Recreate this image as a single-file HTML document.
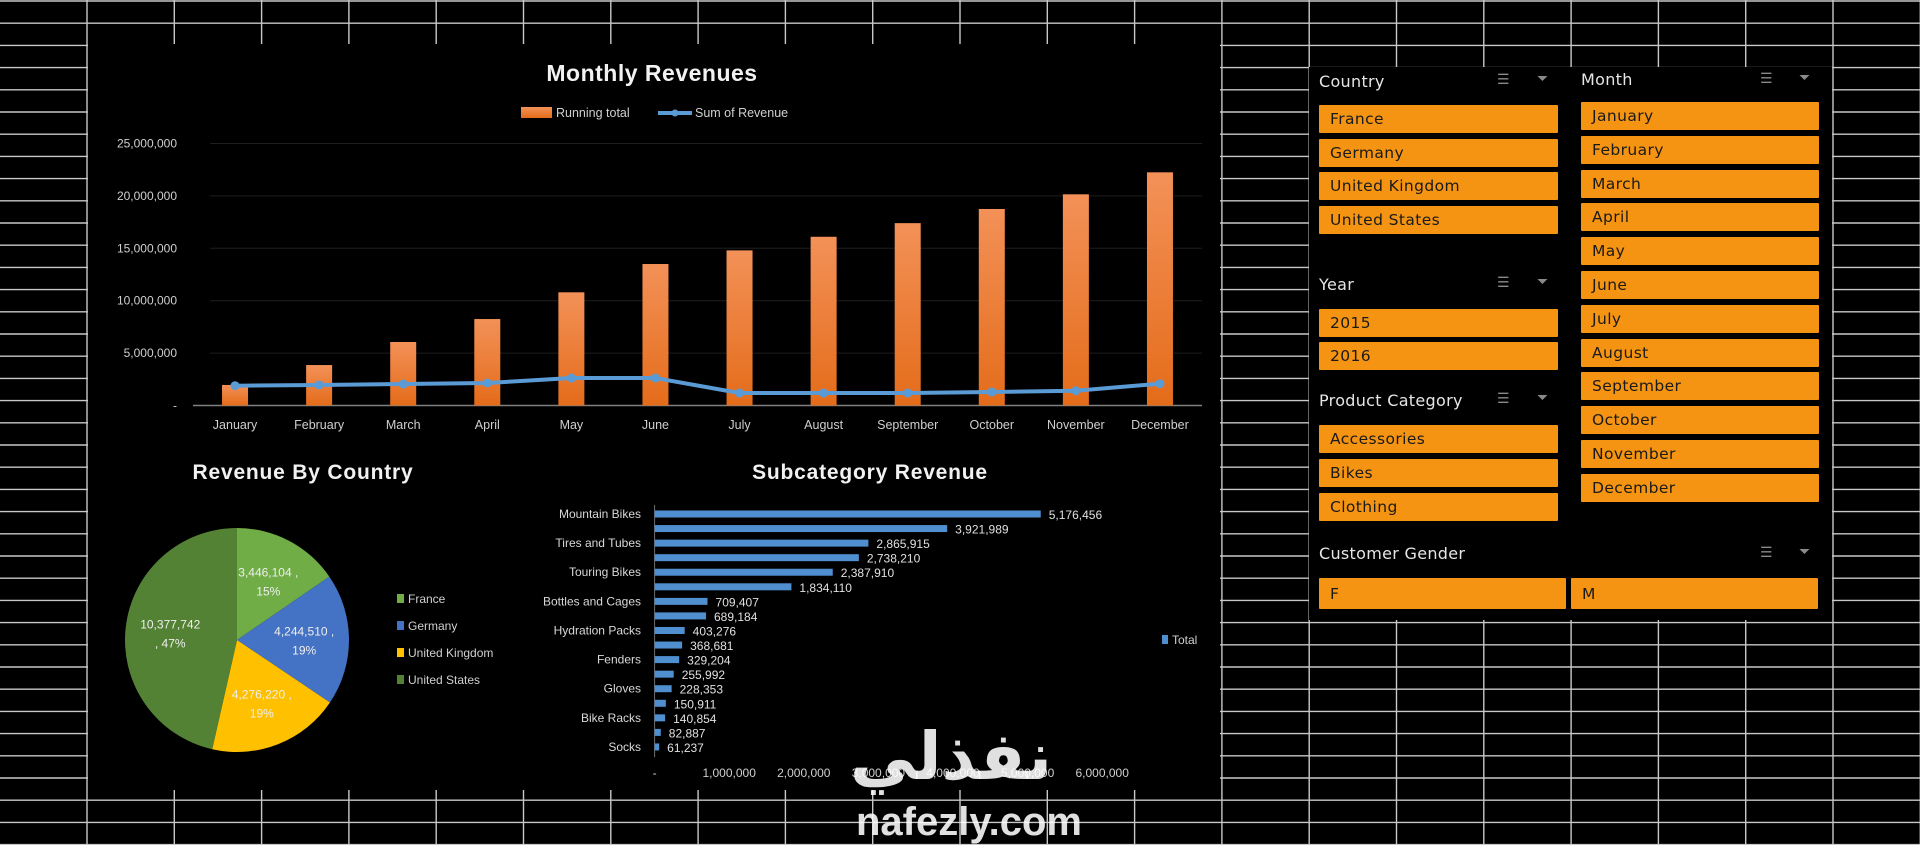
<!DOCTYPE html>
<html><head><meta charset="utf-8"><style>
body{margin:0;width:1920px;height:845px;background:#000;overflow:hidden;position:relative;font-family:"Liberation Sans",sans-serif}
svg{position:absolute;left:0;top:0}
.sl-title{position:absolute;color:#e6e6e6;font:16px "DejaVu Sans",sans-serif;letter-spacing:0.3px}
.btn{position:absolute;background:#f59412;color:#1a1a1a;font:15.5px "DejaVu Sans",sans-serif;letter-spacing:0.4px;box-sizing:border-box;padding-left:11px;display:flex;align-items:center;border-radius:1px}
.ic{position:absolute;color:#8a8a8a;font-size:14px}
.wm{position:absolute;color:rgba(255,255,255,0.88);font-weight:bold}
</style></head><body>
<svg id="bg" width="1920" height="845"></svg>
<svg id="charts" width="1920" height="845"></svg>

<div id="slicers">
<div class="sl-title" style="left:1319px;top:72px">Country</div>
<div class="ic" style="left:1497px;top:71px">☰</div>
<div class="ic" style="left:1537px;top:70px">⏷</div>
<div class="btn" style="left:1319px;top:105px;width:239px;height:28px">France</div>
<div class="btn" style="left:1319px;top:139px;width:239px;height:28px">Germany</div>
<div class="btn" style="left:1319px;top:172px;width:239px;height:28px">United Kingdom</div>
<div class="btn" style="left:1319px;top:206px;width:239px;height:28px">United States</div>

<div class="sl-title" style="left:1319px;top:275px">Year</div>
<div class="ic" style="left:1497px;top:274px">☰</div>
<div class="ic" style="left:1537px;top:273px">⏷</div>
<div class="btn" style="left:1319px;top:309px;width:239px;height:28px">2015</div>
<div class="btn" style="left:1319px;top:342px;width:239px;height:28px">2016</div>

<div class="sl-title" style="left:1319px;top:391px">Product Category</div>
<div class="ic" style="left:1497px;top:390px">☰</div>
<div class="ic" style="left:1537px;top:389px">⏷</div>
<div class="btn" style="left:1319px;top:425px;width:239px;height:28px">Accessories</div>
<div class="btn" style="left:1319px;top:459px;width:239px;height:28px">Bikes</div>
<div class="btn" style="left:1319px;top:493px;width:239px;height:28px">Clothing</div>

<div class="sl-title" style="left:1581px;top:70px">Month</div>
<div class="ic" style="left:1760px;top:70px">☰</div>
<div class="ic" style="left:1799px;top:69px">⏷</div>
<div id="months"></div>

<div class="sl-title" style="left:1319px;top:544px">Customer Gender</div>
<div class="ic" style="left:1760px;top:544px">☰</div>
<div class="ic" style="left:1799px;top:543px">⏷</div>
<div class="btn" style="left:1319px;top:578px;width:247px;height:31px">F</div>
<div class="btn" style="left:1571px;top:578px;width:247px;height:31px">M</div>
</div>

<div class="wm" style="left:850px;top:718px;font-family:'DejaVu Sans',sans-serif;font-size:66px">نفذلي</div>
<div class="wm" style="left:856px;top:800px;font-size:40px;font-family:'Liberation Sans',sans-serif">nafezly.com</div>

<script>
var NS='http://www.w3.org/2000/svg';
function mk(parent,tag,attrs,text){var e=document.createElementNS(NS,tag);for(var k in attrs)e.setAttribute(k,attrs[k]);if(text!==undefined)e.textContent=text;parent.appendChild(e);return e;}

// ---- monthly chart data ----
var months=['January','February','March','April','May','June','July','August','September','October','November','December'];
var runningTotal=[1960000,3860000,6060000,8250000,10800000,13500000,14800000,16100000,17400000,18750000,20150000,22250000];
var sumRevenue=[1890000,1960000,2050000,2150000,2620000,2620000,1190000,1190000,1190000,1290000,1410000,2080000];
var yTicks=[0,5000000,10000000,15000000,20000000,25000000];
var yTickLabels=['-','5,000,000','10,000,000','15,000,000','20,000,000','25,000,000'];

// ---- country pie data ----
var countries=['France','Germany','United Kingdom','United States'];
var countryRevenue=[3446104,4244510,4276220,10377742];
var countryLabels=['3,446,104','4,244,510','4,276,220','10,377,742'];
var countryPct=['15%','19%','19%','47%'];

// ---- subcategory data ----
var subcats=['Mountain Bikes','Road Bikes','Tires and Tubes','Helmets','Touring Bikes','Jerseys','Bottles and Cages','Shorts','Hydration Packs','Vests','Fenders','Caps','Gloves','Bike Stands','Bike Racks','Cleaners','Socks'];
var subcatRevenue=[5176456,3921989,2865915,2738210,2387910,1834110,709407,689184,403276,368681,329204,255992,228353,150911,140854,82887,61237];
var xTicks=[0,1000000,2000000,3000000,4000000,5000000,6000000];
var xTickLabels=['-','1,000,000','2,000,000','3,000,000','4,000,000','5,000,000','6,000,000'];

// ---- background grid ----
var bg=document.getElementById('bg');
for(var i=0;i<39;i++){var y=1+22.2*i;var l=mk(bg,'line',{x1:0,x2:1920,y1:y,y2:y,stroke:'#c8c8c8','stroke-width':1.4});

}
for(var k=0;k<22;k++){var x=87+87.3*k;var v=mk(bg,'line',{x1:x,x2:x,y1:0,y2:845,stroke:'#c8c8c8','stroke-width':1.4});

}
var p1=mk(bg,'rect',{x:88,y:44,width:1132,height:746,fill:'#000'});


var p2=mk(bg,'rect',{x:1309,y:67,width:523,height:553,fill:'#000'});



var svg=document.getElementById('charts');
var defs=mk(svg,'defs',{});
var g=mk(defs,'linearGradient',{id:'og',x1:0,y1:0,x2:0,y2:1});
mk(g,'stop',{offset:0,'stop-color':'#f39158'});mk(g,'stop',{offset:1,'stop-color':'#e46c1a'});

// ---- Monthly chart ----
var t=mk(svg,'text',{x:652,y:81,fill:'#f2f2f2','font-size':23,'font-weight':'bold','text-anchor':'middle','letter-spacing':'0.5'},'Monthly Revenues');


var lg=mk(svg,'rect',{x:521,y:107,width:31,height:11,fill:'url(#og)'});


var lt=mk(svg,'text',{x:556,y:117,fill:'#d0d0d0','font-size':12.5},'Running total');


var ll=mk(svg,'line',{x1:658,x2:692,y1:113,y2:113,stroke:'#5b9bd5','stroke-width':4});


mk(svg,'circle',{cx:675,cy:113,r:3.5,fill:'#5b9bd5'});
var lt2=mk(svg,'text',{x:695,y:117,fill:'#d0d0d0','font-size':12.5},'Sum of Revenue');



var plotL=193,plotR=1202,y0=405.5,pxPer=52.4/5000000;
function yS(v){return y0-v*pxPer;}
function xC(i){return plotL+(plotR-plotL)/months.length*(i+0.5);}
yTicks.forEach(function(v,i){
 if(v>0){var gl=mk(svg,'line',{x1:210,x2:plotR,y1:yS(v),y2:yS(v),stroke:'#1e1e1e','stroke-width':1});
 
 }
 var tx=mk(svg,'text',{x:177,y:yS(v)+4,fill:'#cfcfcf','font-size':12,'text-anchor':'end'},yTickLabels[i]);
 
 
});
var ax=mk(svg,'line',{x1:plotL,x2:plotR,y1:y0,y2:y0,stroke:'#808080','stroke-width':1.5});


months.forEach(function(m,i){
 var b=mk(svg,'rect',{x:xC(i)-13,y:yS(runningTotal[i]),width:26,height:y0-yS(runningTotal[i]),fill:'url(#og)'});
 
 
 var tl=mk(svg,'text',{x:xC(i),y:429,fill:'#cfcfcf','font-size':12.5,'text-anchor':'middle'},m);
 
 
});
var pts=sumRevenue.map(function(v,i){return xC(i)+','+yS(v);}).join(' ');
var pl=mk(svg,'polyline',{points:pts,fill:'none',stroke:'#5b9bd5','stroke-width':4,'stroke-linejoin':'round'});


sumRevenue.forEach(function(v,i){var c=mk(svg,'circle',{cx:xC(i),cy:yS(v),r:4.5,fill:'#5b9bd5'});

});

// ---- Pie ----
var t2=mk(svg,'text',{x:303,y:479,fill:'#f2f2f2','font-size':21,'font-weight':'bold','text-anchor':'middle','letter-spacing':'0.8'},'Revenue By Country');


var pieColors=['#70ad47','#4472c4','#ffc000','#548235'];
var cx=237,cy=640,R=112;
var tot=countryRevenue.reduce(function(a,b){return a+b;},0);
var ang=-Math.PI/2;
countryRevenue.forEach(function(v,i){
 var a2=ang+v/tot*2*Math.PI;
 var large=(a2-ang)>Math.PI?1:0;
 var d='M'+cx+','+cy+' L'+(cx+R*Math.cos(ang))+','+(cy+R*Math.sin(ang))+' A'+R+','+R+' 0 '+large+' 1 '+(cx+R*Math.cos(a2))+','+(cy+R*Math.sin(a2))+' Z';
 var s=mk(svg,'path',{d:d,fill:pieColors[i]});
 
 
 var mid=(ang+a2)/2,lr=R*0.6;
 var lx=cx+lr*Math.cos(mid),ly=cy+lr*Math.sin(mid);
 var big=(v/tot)>0.4;
 var l1=mk(svg,'text',{x:lx,y:ly-4,fill:'#eeeeee','font-size':12,'text-anchor':'middle'},big?countryLabels[i]:countryLabels[i]+' ,');
 
 
 var l2=mk(svg,'text',{x:lx,y:ly+15,fill:'#eeeeee','font-size':12,'text-anchor':'middle'},big?', '+countryPct[i]:countryPct[i]);
 
 
 var sw=mk(svg,'rect',{x:397,y:594+i*27,width:7,height:9,fill:pieColors[i]});
 
 
 var lgt=mk(svg,'text',{x:408,y:603+i*27,fill:'#d0d0d0','font-size':12},countries[i]);
 
 
 ang=a2;
});

// ---- Subcategory bars ----
var t3=mk(svg,'text',{x:870,y:479,fill:'#f2f2f2','font-size':21,'font-weight':'bold','text-anchor':'middle','letter-spacing':'0.8'},'Subcategory Revenue');


var bx0=654.6,bxPer=74.6/1000000,by0=514,bStep=14.56;
function bxS(v){return bx0+v*bxPer;}
function byS(i){return by0+i*bStep;}
var va=mk(svg,'line',{x1:bx0,x2:bx0,y1:505,y2:757,stroke:'#707070','stroke-width':1});


subcats.forEach(function(c,i){
 var b=mk(svg,'rect',{x:bx0,y:byS(i)-3.5,width:bxS(subcatRevenue[i])-bx0,height:7,fill:'#4f8fd0'});
 
 
 var vl=mk(svg,'text',{x:bxS(subcatRevenue[i])+8,y:byS(i)+5,fill:'#e0e0e0','font-size':12},subcatRevenue[i].toLocaleString('en-US'));
 
 
 if(i%2===0){var cl=mk(svg,'text',{x:641,y:byS(i)+4,fill:'#d8d8d8','font-size':12,'text-anchor':'end'},c);
 
 }
});
xTicks.forEach(function(v,i){var tx=mk(svg,'text',{x:bxS(v),y:777,fill:'#d0d0d0','font-size':12,'text-anchor':'middle'},xTickLabels[i]);

});
var ts=mk(svg,'rect',{x:1162,y:635,width:6,height:9,fill:'#4f8fd0'});


var tt=mk(svg,'text',{x:1172,y:644,fill:'#d0d0d0','font-size':12},'Total');



// ---- month slicer buttons ----
var mc=document.getElementById('months');
months.forEach(function(m,i){
 var d=document.createElement('div');d.className='btn';
 d.style.cssText='left:1581px;top:'+(102+i*33.8)+'px;width:238px;height:28px';
 d.textContent=m;
 
 
 mc.appendChild(d);
});
</script>
</body></html>
